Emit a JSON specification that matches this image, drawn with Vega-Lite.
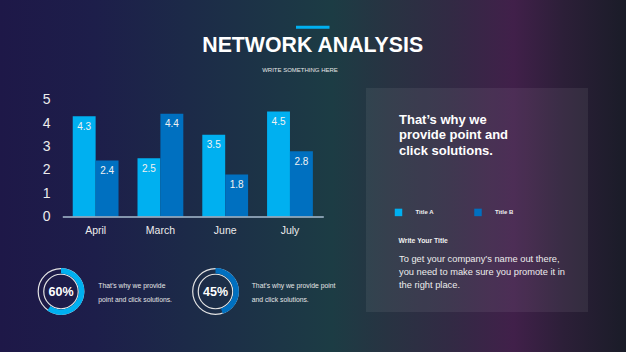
{
  "$schema": "https://vega.github.io/schema/vega-lite/v6.json",
  "width": 626,
  "height": 352,
  "autosize": {"type": "fit", "contains": "padding"},
  "padding": 0,
  "background": "#1d2440",
  "config": {"view": {"stroke": null}, "font": "Liberation Sans"},
  "resolve": {"scale": {"x": "independent", "y": "independent"}},
  "layer": [
    {
      "data": {"values": [{"part": "slide"}]},
      "mark": {
        "type": "rect", "x": 0, "x2": "width", "y": 0, "y2": "height",
        "fill": {
          "gradient": "linear", "x1": 0, "y1": 0, "x2": 1, "y2": 0,
          "stops": [
            {"offset": 0, "color": "#1e1848"},
            {"offset": 0.15, "color": "#1d1e4a"},
            {"offset": 0.3, "color": "#1c2a48"},
            {"offset": 0.45, "color": "#1c3646"},
            {"offset": 0.53, "color": "#1c3c44"},
            {"offset": 0.62, "color": "#283342"},
            {"offset": 0.72, "color": "#322a44"},
            {"offset": 0.82, "color": "#41204a"},
            {"offset": 0.9, "color": "#2c1f38"},
            {"offset": 1, "color": "#1a1c28"}
          ]
        }
      },
      "encoding": {}
    },
    {
      "data": {"values": [{"part": "panel"}]},
      "mark": {"type": "rect", "x": 366, "x2": 588, "y": 88, "y2": 312, "fill": "#ffffff", "fillOpacity": 0.065},
      "encoding": {}
    },
    {
      "data": {"values": [{"part": "accent"}]},
      "mark": {"type": "rect", "x": 296, "x2": 329.5, "y": 25.8, "y2": 28.8, "fill": "#00b0f0"},
      "encoding": {}
    },
    {
      "data": {"values": [{"text": "NETWORK ANALYSIS"}]},
      "mark": {"type": "text", "x": 312.7, "y": 52, "align": "center", "baseline": "alphabetic", "fontSize": 21.3, "fontWeight": "bold", "color": "#ffffff"},
      "encoding": {"text": {"field": "text"}}
    },
    {
      "data": {"values": [{"text": "WRITE SOMETHING HERE"}]},
      "mark": {"type": "text", "x": 300, "y": 71.5, "align": "center", "baseline": "alphabetic", "fontSize": 6, "color": "#e6e6e6"},
      "encoding": {"text": {"field": "text"}}
    },
    {
      "data": {"values": [{"text": "That’s why we\nprovide point and\nclick solutions."}]},
      "mark": {"type": "text", "x": 399, "y": 123.5, "align": "left", "baseline": "alphabetic", "fontSize": 13, "fontWeight": "bold", "color": "#ffffff", "lineBreak": "\n", "lineHeight": 15.7},
      "encoding": {"text": {"field": "text"}}
    },
    {
      "data": {"values": [{"text": "Write Your Title"}]},
      "mark": {"type": "text", "x": 398.5, "y": 243, "align": "left", "baseline": "alphabetic", "fontSize": 6.8, "fontWeight": "bold", "color": "#f0f0f0"},
      "encoding": {"text": {"field": "text"}}
    },
    {
      "data": {"values": [{"text": "To get your company’s name out there,\nyou need to make sure you promote it in\nthe right place."}]},
      "mark": {"type": "text", "x": 399, "y": 262.3, "align": "left", "baseline": "alphabetic", "fontSize": 9.3, "color": "#ececec", "lineBreak": "\n", "lineHeight": 13},
      "encoding": {"text": {"field": "text"}}
    },
    {
      "data": {"values": [{"text": "That’s why we provide\npoint and click solutions."}]},
      "mark": {"type": "text", "x": 98.3, "y": 288, "align": "left", "baseline": "alphabetic", "fontSize": 6.8, "color": "#e6e6e6", "lineBreak": "\n", "lineHeight": 14.4},
      "encoding": {"text": {"field": "text"}}
    },
    {
      "data": {"values": [{"text": "That’s why we provide point\nand click solutions."}]},
      "mark": {"type": "text", "x": 251.7, "y": 288, "align": "left", "baseline": "alphabetic", "fontSize": 6.8, "color": "#e6e6e6", "lineBreak": "\n", "lineHeight": 14.4},
      "encoding": {"text": {"field": "text"}}
    },
    {
      "data": {
        "values": [
          {"month": "April", "series": "Title A", "value": 4.3},
          {"month": "April", "series": "Title B", "value": 2.4},
          {"month": "March", "series": "Title A", "value": 2.5},
          {"month": "March", "series": "Title B", "value": 4.4},
          {"month": "June", "series": "Title A", "value": 3.5},
          {"month": "June", "series": "Title B", "value": 1.8},
          {"month": "July", "series": "Title A", "value": 4.5},
          {"month": "July", "series": "Title B", "value": 2.8}
        ]
      },
      "encoding": {
        "x": {
          "field": "month", "type": "nominal", "sort": ["April", "March", "June", "July"],
          "scale": {"range": [62.3, 323.3], "paddingInner": 0.293, "paddingOuter": 0.161},
          "axis": {"orient": "bottom", "offset": -135.5, "zindex": 1, "title": null, "ticks": false, "grid": false, "domainColor": "#a7bccf", "domainWidth": 1.5, "labelColor": "#ececec", "labelFontSize": 10.5, "labelPadding": 9, "labelAngle": 0}
        },
        "xOffset": {"field": "series", "type": "nominal", "sort": ["Title A", "Title B"], "scale": {"paddingInner": 0, "paddingOuter": 0}},
        "y": {
          "field": "value", "type": "quantitative",
          "scale": {"domain": [0, 5], "range": [216.5, 99.8], "nice": false, "zero": true},
          "axis": {"orient": "left", "offset": -56, "zindex": 1, "title": null, "ticks": false, "domain": false, "grid": false, "values": [0, 1, 2, 3, 4, 5], "labelColor": "#ececec", "labelFontSize": 14, "labelPadding": 6}
        }
      },
      "layer": [
        {
          "mark": {"type": "bar"},
          "encoding": {
            "color": {
              "field": "series", "type": "nominal",
              "scale": {"domain": ["Title A", "Title B", "rest"], "range": ["#00b0f0", "#0070c0", "transparent"]},
              "legend": {"orient": "none", "legendX": 394.5, "legendY": 208.3, "direction": "horizontal", "title": null, "values": ["Title A", "Title B"], "symbolType": "square", "symbolSize": 56, "symbolStrokeWidth": 0, "symbolOpacity": 1, "labelFontSize": 6, "labelFontWeight": "bold", "labelColor": "#f0f0f0", "labelOffset": 13, "columnPadding": 39.5, "padding": 0}
            }
          }
        },
        {
          "mark": {"type": "text", "baseline": "middle", "dy": 10.5, "fontSize": 10, "color": "#f2f2f2"},
          "encoding": {"text": {"field": "value", "type": "quantitative", "format": ".1f"}}
        }
      ]
    },
    {
      "data": {
        "values": [
          {"label": "60%", "series": "Title A", "share": 60},
          {"label": "60%", "series": "rest", "share": 40},
          {"label": "45%", "series": "Title B", "share": 45},
          {"label": "45%", "series": "rest", "share": 55}
        ]
      },
      "encoding": {
        "x": {"field": "label", "type": "nominal", "sort": ["60%", "45%"], "scale": {"type": "point", "range": [61, 215.5], "padding": 0}, "axis": null},
        "y": {"field": "label", "type": "nominal", "scale": {"type": "point", "range": [291.5, 291.5], "padding": 0}, "axis": null}
      },
      "layer": [
        {
          "transform": [{"filter": "datum.series === 'rest'"}],
          "mark": {"type": "point", "shape": "circle", "size": 2080, "filled": false, "stroke": "#e3e3e3", "strokeWidth": 1.2, "opacity": 1}
        },
        {
          "transform": [{"filter": "datum.series === 'rest'"}],
          "mark": {"type": "point", "shape": "circle", "size": 1190, "filled": false, "stroke": "#e3e3e3", "strokeWidth": 1.2, "opacity": 1}
        },
        {
          "transform": [{"filter": "datum.label === '60%'"}],
          "mark": {"type": "arc", "innerRadius": 17.9, "outerRadius": 23.4},
          "encoding": {
            "theta": {"field": "share", "type": "quantitative", "stack": true},
            "order": {"field": "series", "sort": "ascending"},
            "color": {"field": "series", "type": "nominal", "legend": null}
          }
        },
        {
          "transform": [{"filter": "datum.label === '45%'"}],
          "mark": {"type": "arc", "innerRadius": 17.9, "outerRadius": 23.4},
          "encoding": {
            "theta": {"field": "share", "type": "quantitative", "stack": true},
            "order": {"field": "series", "sort": "ascending"},
            "color": {"field": "series", "type": "nominal", "legend": null}
          }
        },
        {
          "transform": [{"filter": "datum.series === 'rest'"}],
          "mark": {"type": "text", "fontSize": 12.5, "fontWeight": "bold", "color": "#ffffff", "baseline": "middle"},
          "encoding": {"text": {"field": "label"}}
        }
      ]
    }
  ]
}
